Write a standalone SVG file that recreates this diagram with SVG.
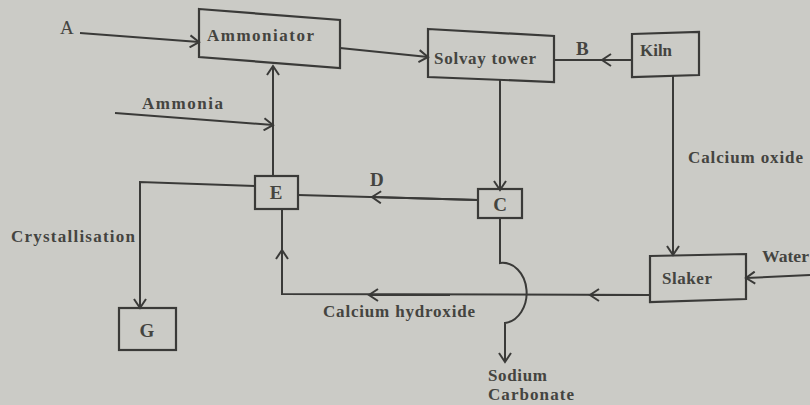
<svg xmlns="http://www.w3.org/2000/svg" width="810" height="405" viewBox="0 0 810 405">
<defs>
<marker id="arr" markerWidth="14" markerHeight="14" refX="11" refY="7" orient="auto" markerUnits="userSpaceOnUse">
<path d="M2,1 L11,7 L2,13" fill="none" stroke="#3a3a38" stroke-width="2"/>
</marker>
</defs>
<style>
.bg{fill:#cbcbc6}
.box{fill:none;stroke:#3a3a38;stroke-width:2.2}
.ln{fill:none;stroke:#3a3a38;stroke-width:2}
.a{marker-end:url(#arr)}
text{font-family:"Liberation Serif","Times New Roman",serif;font-weight:bold;font-size:17px;fill:#444440}
.big{font-size:19px}
</style>
<rect class="bg" x="0" y="0" width="810" height="405"/>
<g id="connectors">
<path class="ln a" d="M80,33 L199,42"/>
<path class="ln a" d="M340,48 L428,57"/>
<path class="ln" d="M632,60 L554,60"/>
<path class="ln a" d="M632,60 L602,60"/>
<path class="ln a" d="M673,76 L673,255"/>
<path class="ln a" d="M810,275 L746,278"/>
<path class="ln" d="M650,295 L282,294 L282,210"/>
<path class="ln a" d="M650,295 L590,295"/>
<path class="ln a" d="M450,295 L369,295"/>
<path class="ln a" d="M282,270 L282,250"/>
<path class="ln a" d="M273,176 L273,66"/>
<path class="ln a" d="M115,113 L273,125"/>
<path class="ln a" d="M500,80 L500,190"/>
<path class="ln" d="M478,200 L298,195"/>
<path class="ln a" d="M478,200 L372,197"/>
<path class="ln a" d="M255,186 L140,182 L140,308"/>
<path class="ln a" d="M500,218 L500,263 A24,30 0 0 1 505,323 L505,362"/>
</g>
<g id="ammoniator"><path class="box" d="M199,9 L340,20 L340,68 L199,57 Z"/><text x="207" y="41" textLength="107" lengthAdjust="spacing">Ammoniator</text></g>
<g id="solvay"><path class="box" d="M428,29 L554,36 L554,82 L428,77 Z"/><text x="434" y="64" textLength="102" lengthAdjust="spacing">Solvay tower</text></g>
<g id="kiln"><path class="box" d="M632,34 L699,32 L699,75 L632,77 Z"/><text x="640" y="56" textLength="32" lengthAdjust="spacingAndGlyphs">Kiln</text></g>
<g id="slaker"><path class="box" d="M650,256 L746,254 L746,299 L650,302 Z"/><text x="662" y="284" textLength="50" lengthAdjust="spacing">Slaker</text></g>
<g id="E"><rect class="box" x="255" y="176" width="43" height="33"/><text class="big" x="276" y="199" text-anchor="middle">E</text></g>
<g id="C"><rect class="box" x="478" y="189" width="44" height="29"/><text class="big" x="500" y="211" text-anchor="middle">C</text></g>
<g id="G"><rect class="box" x="119" y="308" width="57" height="42"/><text class="big" x="147" y="337" text-anchor="middle">G</text></g>
<g id="labels">
<text class="big" x="60" y="34" style="font-weight:normal">A</text>
<text x="576" y="55" class="big">B</text>
<text x="370" y="186" class="big">D</text>
<text x="142" y="109" textLength="81" lengthAdjust="spacing">Ammonia</text>
<text x="688" y="163" textLength="115" lengthAdjust="spacing">Calcium oxide</text>
<text x="762" y="262" textLength="47" lengthAdjust="spacingAndGlyphs">Water</text>
<text x="11" y="242" textLength="124" lengthAdjust="spacing">Crystallisation</text>
<text x="323" y="317" textLength="152" lengthAdjust="spacing">Calcium hydroxide</text>
<text x="488" y="381" textLength="59" lengthAdjust="spacing">Sodium</text>
<text x="488" y="400" textLength="86" lengthAdjust="spacing">Carbonate</text>
</g>
</svg>
